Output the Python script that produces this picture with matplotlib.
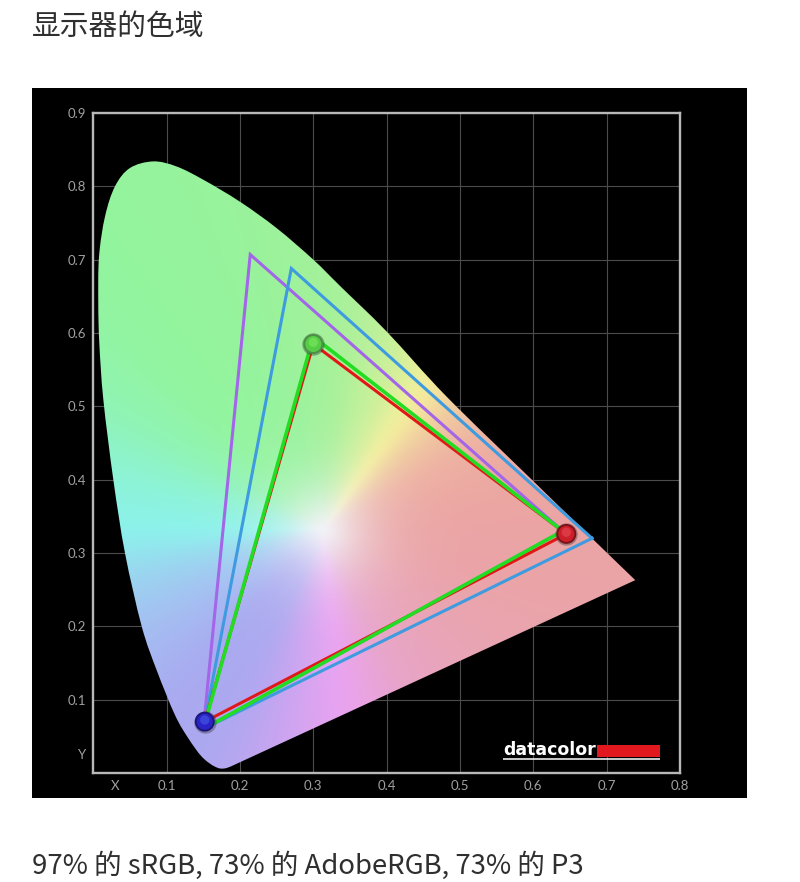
import numpy as np
import matplotlib
matplotlib.use("Agg")
import matplotlib.pyplot as plt
from matplotlib.colors import to_rgb
from matplotlib.patches import PathPatch, Rectangle
from matplotlib.path import Path
from matplotlib.transforms import offset_copy

plt.rcParams['font.family'] = ['Noto Sans CJK SC', 'DejaVu Sans']

title = "显示器的色域"
caption = "97% 的 sRGB, 73% 的 AdobeRGB, 73% 的 P3"
x_ticks = [0.1, 0.2, 0.3, 0.4, 0.5, 0.6, 0.7, 0.8]
y_ticks = [0.1, 0.2, 0.3, 0.4, 0.5, 0.6, 0.7, 0.8, 0.9]
tick_labels_x = ["0.1", "0.2", "0.3", "0.4", "0.5", "0.6", "0.7", "0.8"]
tick_labels_y = ["0.1", "0.2", "0.3", "0.4", "0.5", "0.6", "0.7", "0.8", "0.9"]

locus_x = [0.200, 0.180, 0.166, 0.148, 0.1296, 0.1114, 0.0865, 0.066, 0.0432, 0.0273, 0.0137, 0.0082,
           0.0068, 0.0078, 0.016, 0.0296, 0.050, 0.0819, 0.1137, 0.150, 0.200, 0.250, 0.300,
           0.3366, 0.400, 0.482, 0.600, 0.680, 0.739]
locus_y = [0.0147, 0.0064, 0.0086, 0.0222, 0.0473, 0.079, 0.140, 0.200, 0.300, 0.400, 0.509, 0.586,
           0.641, 0.704, 0.759, 0.800, 0.825, 0.834, 0.827, 0.809, 0.779, 0.743, 0.700,
           0.664, 0.602, 0.513, 0.398, 0.320, 0.263]

adobe_x = [0.64, 0.214, 0.15]
adobe_y = [0.33, 0.707, 0.06]
p3_x = [0.68, 0.27, 0.15]
p3_y = [0.32, 0.688, 0.06]
srgb_x = [0.64, 0.30, 0.15]
srgb_y = [0.33, 0.595, 0.06]
measured_x = [0.645, 0.30, 0.152]
measured_y = [0.326, 0.585, 0.070]
ball_dark = ["#7a1218", "#4a8f45", "#1a1678"]
ball_main = ["#cc1f2a", "#55cc45", "#2a24c8"]
ball_light = ["#e8505a", "#80ee62", "#4a60e8"]

white_point = (0.3133, 0.3315)
hue_angles = [0, 15, 30, 42, 55, 68, 85, 105, 135, 150, 165, 180, 195, 210, 228, 245, 255, 265, 276, 297, 315, 340, 360]
hue_colors = ["#eba4a4", "#eca8a2", "#eeb2a2", "#f0c8a0", "#f5ef9c", "#ccf09a", "#a8f19a", "#98f39c",
              "#92f5a0", "#90f4b4", "#8df3d6", "#8cf3ec", "#9cd2f0", "#a5bdf2", "#a9aaf0", "#aea8f0",
              "#c4a5f0", "#d8a4f0", "#eaa3f2", "#e8a5c8", "#e9a4b8", "#eaa4aa", "#eba4a4"]

W, H = 800, 882
fig = plt.figure(figsize=(W / 100, H / 100), dpi=100, facecolor="white")
ax = fig.add_axes([93.3 / W, 1 - 773 / H, 586.7 / W, 660 / H], zorder=2)
ax.set_facecolor("black")
ax.set_xlim(0, 0.8)
ax.set_ylim(0, 0.9)
fig.add_artist(Rectangle((32 / W, 1 - 798 / H), 715 / W, 710 / H,
                         transform=fig.transFigure, facecolor="black", edgecolor="none", zorder=-5))

# colour field: hue by angle around the white point, fading to white at its centre
gx, gy = np.meshgrid(np.linspace(0, 0.8, 640), np.linspace(0, 0.9, 720))
dx, dy = gx - white_point[0], gy - white_point[1]
ang = np.degrees(np.arctan2(dy, dx)) % 360
hue_rgb = np.array([to_rgb(c) for c in hue_colors])
deg = np.arange(360)
table = np.column_stack([np.interp(deg, hue_angles, hue_rgb[:, i]) for i in range(3)])
kernel = np.ones(9) / 9
table = np.column_stack([np.convolve(np.r_[table[-9:, i], table[:, i], table[:9, i]], kernel, "same")[9:-9]
                         for i in range(3)])
field = np.dstack([np.interp(ang, np.r_[deg, 360], np.r_[table[:, i], table[0, i]]) for i in range(3)])
sat = (1 - np.exp(-(np.hypot(dx, dy) / 0.065) ** 1.4))[..., None]
rgb = (1 - sat) * np.array([0.95, 0.95, 0.97]) + sat * field
im = ax.imshow(rgb, extent=[0, 0.8, 0, 0.9], origin="lower", aspect="auto", zorder=1,
               interpolation="bilinear")

# smooth outline through the locus readings, closed by the straight purple line
pts = np.column_stack([locus_x, locus_y])
verts, codes = [pts[0]], [Path.MOVETO]
for i in range(len(pts) - 1):
    p0 = pts[max(i - 1, 0)]
    p1, p2 = pts[i], pts[i + 1]
    p3 = pts[min(i + 2, len(pts) - 1)]
    verts += [p1 + (p2 - p0) / 6, p2 - (p3 - p1) / 6, p2]
    codes += [Path.CURVE4] * 3
verts.append(pts[0])
codes.append(Path.CLOSEPOLY)
outline = PathPatch(Path(np.array(verts), codes), transform=ax.transData,
                    facecolor="none", edgecolor="none")
ax.add_patch(outline)
im.set_clip_path(outline)

# triangles
for xs, ys, col, lw, z, join in [(adobe_x, adobe_y, "#a366e8", 2.2, 3, "miter"),
                                 (p3_x, p3_y, "#3f9be0", 2.2, 4, "miter"),
                                 (measured_x, measured_y, "#e01818", 2.2, 5, "round"),
                                 (srgb_x, srgb_y, "#22dd22", 2.6, 6, "round")]:
    ax.plot(xs + xs[:1], ys + ys[:1], color=col, lw=lw, zorder=z, solid_joinstyle=join)

# balls
ax.scatter(measured_x, measured_y, s=260, c="#3a3a3a", alpha=0.4, linewidths=0, zorder=7)
ax.scatter(measured_x, measured_y, s=205, c=ball_dark, linewidths=0, zorder=8)
ax.scatter(measured_x, measured_y, s=135, c=ball_main, linewidths=0, zorder=9)
up = offset_copy(ax.transData, fig=fig, x=0, y=1.2, units="points")
ax.scatter(measured_x, measured_y, s=45, c=ball_light, linewidths=0, alpha=0.55, zorder=10, transform=up)

# axes styling
for s in ax.spines.values():
    s.set_color("#b8b8b8")
    s.set_linewidth(1.7)
    s.set_zorder(10)
ax.set_xticks(x_ticks, labels=tick_labels_x)
ax.set_yticks(y_ticks, labels=tick_labels_y)
ax.set_xticks([0.03], labels=["X"], minor=True)
ax.set_yticks([0.026], labels=["Y"], minor=True)
ax.tick_params(which="both", length=0, labelcolor="#a0a0a0", labelsize=9.5, pad=5)
for lab in ax.get_xticklabels(which="both") + ax.get_yticklabels(which="both"):
    lab.set_family("Lato")
ax.grid(True, which="major", color="#4c4c4c", lw=0.8, zorder=0)
ax.set_axisbelow(True)

# logo
ax.text(0.5585, 0.0245, "datacolor", color="white", fontsize=12.5, fontweight="bold",
        family="DejaVu Sans", va="baseline", ha="left", zorder=11)
ax.add_patch(Rectangle((0.687, 0.0225), 0.086, 0.0155, facecolor="#e2181f", edgecolor="none", zorder=11))
ax.plot([0.5585, 0.773], [0.0195, 0.0195], color="white", lw=1.1, zorder=11, solid_capstyle="butt")

fig.text(32 / W, 1 - 27 / H, title, fontsize=20.7, color="#2f2f2f", va="center", ha="left")
fig.text(32 / W, 1 - 866 / H, caption, fontsize=19.8, color="#2f2f2f", va="center", ha="left")
fig.savefig("out.png", dpi=100)
